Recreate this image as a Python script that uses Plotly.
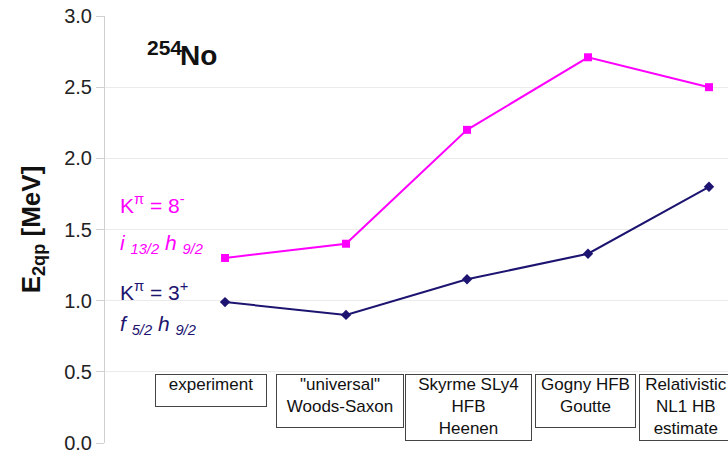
import plotly.graph_objects as go

# ---- data ----
methods = ["experiment", "\"universal\"<br>Woods-Saxon", "Skyrme SLy4<br>HFB<br>Heenen",
           "Gogny HFB<br>Goutte", "Relativistic<br>NL1 HB<br>estimate"]
k8_values = [1.30, 1.40, 2.20, 2.71, 2.50]   # K^pi = 8-
k3_values = [0.99, 0.90, 1.15, 1.33, 1.80]   # K^pi = 3+
y_ticks = [0.0, 0.5, 1.0, 1.5, 2.0, 2.5, 3.0]

MAG = "#FF00FF"
NAVY = "#1C1470"
FONT = "Liberation Sans, Arial, sans-serif"

xs = list(range(len(methods)))

fig = go.Figure()
fig.add_trace(go.Scatter(x=xs, y=k8_values, mode="lines+markers",
                         line=dict(color=MAG, width=2),
                         marker=dict(symbol="square", size=8, color=MAG),
                         showlegend=False, cliponaxis=False))
fig.add_trace(go.Scatter(x=xs, y=k3_values, mode="lines+markers",
                         line=dict(color=NAVY, width=2),
                         marker=dict(symbol="diamond", size=8, color=NAVY),
                         showlegend=False, cliponaxis=False))

# method label boxes (center in category units, width, height in px)
box_geom = [(-0.12, 110, 31), (0.95, 126, 52), (2.01, 125, 65), (2.98, 99, 52), (3.81, 92, 65)]
for (cx, w, h), txt in zip(box_geom, methods):
    fig.add_annotation(x=cx, y=0.485, xref="x", yref="y", text=txt, showarrow=False,
                       xanchor="center", yanchor="top", width=w, height=h,
                       valign="top", align="center",
                       bordercolor="#444", borderwidth=1, borderpad=0, bgcolor="white",
                       font=dict(family=FONT, size=17, color="#111"))

# nucleus label
fig.add_annotation(x=0.065, y=0.908, xref="paper", yref="paper", xanchor="left", yanchor="middle",
                   text="<b>254</b>", showarrow=False,
                   yshift=8, font=dict(family=FONT, size=21, color="#111"))
fig.add_annotation(x=0.117, y=0.908, xref="paper", yref="paper", xanchor="left", yanchor="middle",
                   text="<b>No</b>", showarrow=False,
                   font=dict(family=FONT, size=28, color="#111"))

# K labels
labels = [
    ("K<sup>π</sup> = 8<sup>-</sup>", 1.68, MAG),
    ("<i>i <sub>13/2</sub> h <sub>9/2</sub></i>", 1.40, MAG),
    ("K<sup>π</sup> = 3<sup>+</sup>", 1.07, NAVY),
    ("<i>f <sub>5/2</sub> h <sub>9/2</sub></i>", 0.83, NAVY),
]
for txt, yv, col in labels:
    fig.add_annotation(x=0.021, y=yv, xref="paper", yref="y", xanchor="left", yanchor="middle",
                       text=txt, showarrow=False,
                       font=dict(family=FONT, size=21, color=col))

fig.update_xaxes(range=[-0.992, 4.157], showticklabels=False, showgrid=False,
                 zeroline=False, showline=False, ticks="")
fig.update_yaxes(range=[0, 3], tickvals=y_ticks, ticktext=[f"{v:.1f}" for v in y_ticks],
                 showgrid=True, gridcolor="#EBEBEB", gridwidth=1, zeroline=False,
                 showline=True, linecolor="#D0D0D0", linewidth=1,
                 ticks="outside", ticklen=8, tickcolor="#D0D0D0",
                 tickfont=dict(family=FONT, size=20, color="#222"),
                 title=dict(text="<b>E<sub>2qp</sub> [MeV]</b>", standoff=16,
                            font=dict(family=FONT, size=26, color="#111")))

fig.update_layout(width=728, height=458, margin=dict(l=105, r=0, t=16, b=15),
                  plot_bgcolor="white", paper_bgcolor="white")

fig.write_html("out.html", config={"displayModeBar": False},
               post_script="document.body.style.margin='0px';")
